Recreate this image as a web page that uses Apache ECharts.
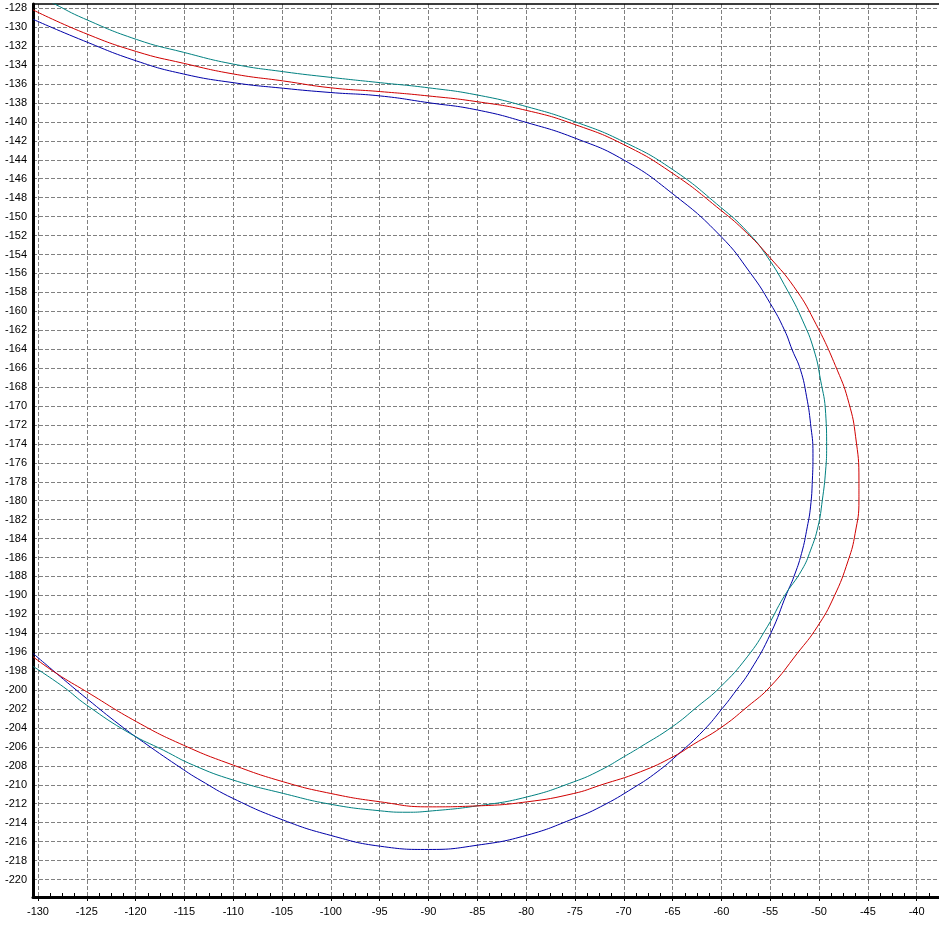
<!DOCTYPE html>
<html><head><meta charset="utf-8">
<script src="https://cdn.jsdelivr.net/npm/echarts@6/dist/echarts.min.js"></script>
<style>html,body{margin:0;padding:0;background:#fff}#c{width:939px;height:929px}</style>
</head><body><div id="c"></div>
<script>
const xTicks = [-130,-125,-120,-115,-110,-105,-100,-95,-90,-85,-80,-75,-70,-65,-60,-55,-50,-45,-40];
const yTicks = [-128,-130,-132,-134,-136,-138,-140,-142,-144,-146,-148,-150,-152,-154,-156,-158,-160,-162,-164,-166,-168,-170,-172,-174,-176,-178,-180,-182,-184,-186,-188,-190,-192,-194,-196,-198,-200,-202,-204,-206,-208,-210,-212,-214,-216,-218,-220];

const blueCurve = [
[-130.5,-129.17],[-125.35,-131.42],[-119.89,-133.57],[-115.1,-134.94],[-109.98,-135.86],[-104.85,-136.45],
[-100.0,-136.9],[-94.94,-137.26],[-90.0,-137.97],[-85.0,-138.74],[-79.9,-140.08],[-74.95,-141.73],
[-70.0,-144.02],[-65.04,-147.55],[-60.09,-152.05],[-57.0,-156.0],[-55.0,-159.16],[-53.54,-161.98],
[-52.74,-164.09],[-51.89,-166.21],[-51.27,-169.03],[-50.87,-171.84],[-50.62,-175.0],[-50.68,-177.83],
[-50.87,-180.65],[-51.2,-182.76],[-51.79,-185.57],[-52.58,-188.04],[-53.3,-189.8],[-54.95,-194.02],
[-57.01,-197.9],[-58.72,-200.36],[-59.91,-201.94],[-61.8,-204.23],[-64.53,-206.87],[-66.58,-208.64],
[-68.97,-210.3],[-72.39,-212.33],[-75.1,-213.56],[-79.9,-215.32],[-85.0,-216.38],[-90.0,-216.83],
[-94.94,-216.49],[-100.0,-215.35],[-104.85,-213.74],[-110.0,-211.45],[-113.4,-209.5],[-115.1,-208.4],
[-119.2,-205.5],[-121.6,-203.7],[-125.0,-200.9],[-127.4,-198.85],[-130.5,-196.13]
];

const redCurve = [
[-130.5,-128.18],[-125.35,-130.57],[-119.89,-132.58],[-115.1,-133.81],[-109.98,-134.94],[-104.85,-135.68],
[-100.0,-136.4],[-94.94,-136.8],[-90.0,-137.26],[-85.0,-137.87],[-79.9,-138.8],[-74.95,-140.3],
[-70.0,-142.4],[-65.04,-145.4],[-60.09,-149.3],[-57.35,-151.77],[-54.96,-154.41],[-52.57,-157.41],
[-50.52,-160.93],[-48.13,-166.21],[-46.93,-169.72],[-46.25,-173.25],[-45.91,-177.83],[-45.91,-179.94],
[-46.3,-183.46],[-47.0,-186.28],[-48.47,-190.15],[-50.18,-193.32],[-52.23,-196.13],[-54.96,-199.6],
[-57.35,-201.77],[-60.09,-204.0],[-62.82,-205.7],[-64.87,-207.0],[-68.29,-208.63],[-72.39,-210.04],
[-75.12,-210.92],[-79.9,-211.8],[-85.03,-212.23],[-90.0,-212.33],[-94.94,-211.8],[-100.0,-210.92],
[-104.85,-209.69],[-109.98,-207.93],[-115.1,-205.82],[-119.89,-203.35],[-125.01,-200.18],[-128.09,-198.25],
[-130.5,-196.49]
];

const tealCurve = [
[-130.5,-126.4],[-128.3,-127.55],[-125.35,-129.06],[-119.89,-131.3],[-115.1,-132.65],[-109.98,-133.9],
[-104.85,-134.7],[-100.0,-135.3],[-94.94,-135.86],[-90.0,-136.4],[-85.0,-137.16],[-79.9,-138.4],
[-74.95,-140.0],[-70.0,-142.1],[-65.04,-145.0],[-60.09,-149.0],[-57.35,-151.59],[-55.3,-154.24],
[-53.25,-157.76],[-51.7,-160.93],[-50.52,-164.09],[-49.84,-167.26],[-49.32,-170.78],[-49.22,-174.31],
[-49.32,-176.77],[-49.66,-179.94],[-50.11,-182.76],[-50.86,-185.22],[-51.75,-187.3],[-53.6,-190.15],
[-55.3,-193.32],[-57.35,-196.49],[-60.09,-199.66],[-62.48,-201.77],[-65.04,-203.88],[-68.29,-206.0],
[-70.0,-207.05],[-72.39,-208.46],[-75.12,-209.69],[-79.9,-211.28],[-85.03,-212.23],[-90.0,-212.79],
[-92.2,-212.9],[-94.94,-212.75],[-99.9,-212.08],[-104.85,-210.92],[-109.98,-209.51],[-114.08,-207.93],
[-117.15,-206.35],[-120.57,-204.58],[-125.01,-201.59],[-127.4,-199.66],[-130.5,-197.5]
];

const W = 939, H = 929;
const G = {left:33, right:0, top:4, bottom:32};
const X_MIN = -130.51, X_MAX = -37.71;
const Y_MIN = -221.85, Y_MAX = -127.55;
const pxPerX = (W - G.left - G.right) / (X_MAX - X_MIN);
const pxPerY = (H - G.top - G.bottom) / (Y_MAX - Y_MIN);
const xPix = v => G.left + (v - X_MIN) * pxPerX;
const yPix = v => G.top + (Y_MAX - v) * pxPerY;

const xMinorTicks = [];
for (let v = -130; v <= X_MAX; v += 1.25) {
  if (Math.abs(v % 5) > 0.01) xMinorTicks.push(v);
}

const font = 'Liberation Sans, Arial, sans-serif';
const dash = {show:true, lineStyle:{color:'#808080', type:[4,2], width:1}};
const off = {show:false};

const chart = echarts.init(document.getElementById('c'), null, {renderer:'canvas'});
chart.setOption({
  animation:false,
  backgroundColor:'#ffffff',
  grid:[
    {left:G.left, right:G.right, top:G.top, bottom:G.bottom, containLabel:false},
    {left:xPix(-130), right:W - xPix(-40), top:G.top, bottom:G.bottom, containLabel:false},
    {left:G.left, right:G.right, top:yPix(-128), bottom:H - yPix(-220), containLabel:false}
  ],
  xAxis:[
    {gridIndex:0, type:'value', min:X_MIN, max:X_MAX, position:'bottom',
     axisLine:{show:true, onZero:false, lineStyle:{color:'#000', width:3}},
     axisTick:{show:true, inside:false, length:4, customValues:xTicks, lineStyle:{color:'#000', width:1}},
     axisLabel:{customValues:xTicks, color:'#000', fontFamily:font, fontSize:11, margin:9},
     splitLine:off},
    {gridIndex:0, type:'value', min:X_MIN, max:X_MAX, position:'bottom',
     axisLine:{show:false, onZero:false},
     axisTick:{show:true, inside:true, length:4, customValues:xMinorTicks, lineStyle:{color:'#000', width:1}},
     axisLabel:off, splitLine:off},
    {gridIndex:0, type:'value', min:X_MIN, max:X_MAX, position:'top',
     axisLine:{show:true, onZero:false, lineStyle:{color:'#000', width:1.5}},
     axisTick:off, axisLabel:off, splitLine:off},
    {gridIndex:1, type:'value', min:-130, max:-40, interval:5,
     axisLine:off, axisTick:off, axisLabel:off, splitLine:dash},
    {gridIndex:2, type:'value', min:0, max:1, show:false}
  ],
  yAxis:[
    {gridIndex:0, type:'value', min:Y_MIN, max:Y_MAX, position:'left',
     axisLine:{show:true, onZero:false, lineStyle:{color:'#000', width:3}},
     axisTick:{show:false, customValues:yTicks},
     axisLabel:{customValues:yTicks, color:'#000', fontFamily:font, fontSize:11, margin:6},
     splitLine:off},
    {gridIndex:1, type:'value', min:0, max:1, show:false},
    {gridIndex:2, type:'value', min:-220, max:-128, interval:2,
     axisLine:off, axisTick:off, axisLabel:off, splitLine:dash}
  ],
  series:[
    {name:'blue', type:'line', xAxisIndex:0, yAxisIndex:0, data:blueCurve, smooth:0.5, showSymbol:false, clip:true,
     lineStyle:{color:'#0000a8', width:1}, itemStyle:{color:'#0000a8'}},
    {name:'teal', type:'line', xAxisIndex:0, yAxisIndex:0, data:tealCurve, smooth:0.5, showSymbol:false, clip:true,
     lineStyle:{color:'#008080', width:1}, itemStyle:{color:'#008080'}},
    {name:'red', type:'line', xAxisIndex:0, yAxisIndex:0, data:redCurve, smooth:0.5, showSymbol:false, clip:true,
     lineStyle:{color:'#d00000', width:1}, itemStyle:{color:'#d00000'}}
  ]
});
</script>
</body></html>
